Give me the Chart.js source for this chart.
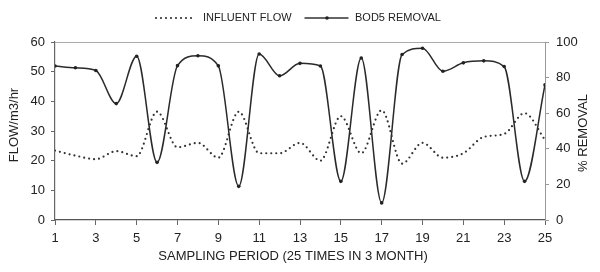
<!DOCTYPE html>
<html lang="en">
<head>
    <meta charset="UTF-8">
    <title>Influent flow and BOD5 removal</title>
    <script src="https://cdn.jsdelivr.net/npm/chart.js"></script>
    <style>
        body { margin: 0; background: #fff; }
    </style>
</head>
<body>
    <canvas id="grafico" width="600" height="272"></canvas>

<script>
    // valores
    const periodos = [1, 2, 3, 4, 5, 6, 7, 8, 9, 10, 11, 12, 13, 14, 15, 16, 17, 18, 19, 20, 21, 22, 23, 24, 25];
    const vazao = [23.4, 21.7, 20.5, 23.2, 21.5, 36.5, 24.5, 26, 21, 36.5, 22.5, 22.5, 26, 20, 35, 22.5, 37, 19, 26, 21, 22.5, 28, 29, 36, 27];
    const remocaoBOD = [86.5, 85.5, 84, 65.4, 92, 32.4, 86.7, 92.3, 86.6, 18.9, 93.3, 81, 88, 86.5, 21.7, 91, 9.6, 93, 96.5, 83.6, 88.3, 89.4, 86.2, 21.7, 75.9];
    const ticksX = [1, 3, 5, 7, 9, 11, 13, 15, 17, 19, 21, 23, 25];

    const fonte = 'Liberation Sans, Arial, sans-serif';
    const corTexto = '#222';

    // legenda e titulos dos eixos desenhados a mao
    const extras = {
        id: 'extras',
        afterDraw(chart) {
            const ctx = chart.ctx;
            const a = chart.chartArea;
            ctx.save();

            // borda de cima
            ctx.strokeStyle = '#aaa';
            ctx.lineWidth = 1;
            ctx.beginPath();
            ctx.moveTo(a.left, a.top + 0.5);
            ctx.lineTo(a.right, a.top + 0.5);
            ctx.stroke();

            ctx.fillStyle = corTexto;
            ctx.font = '13px ' + fonte;
            ctx.textAlign = 'center';
            ctx.textBaseline = 'middle';
            ctx.fillText('SAMPLING PERIOD (25 TIMES IN 3 MONTH)', 293, 256);

            ctx.save();
            ctx.translate(14, 125);
            ctx.rotate(-Math.PI / 2);
            ctx.fillText('FLOW/m3/hr', 0, 0);
            ctx.restore();

            ctx.save();
            ctx.translate(583, 133);
            ctx.rotate(-Math.PI / 2);
            ctx.fillText('% REMOVAL', 0, 0);
            ctx.restore();

            // legenda
            const yl = 18;
            ctx.strokeStyle = '#333';
            ctx.lineWidth = 2.2;
            ctx.lineCap = 'round';
            ctx.setLineDash([0, 5]);
            ctx.beginPath();
            ctx.moveTo(156, yl);
            ctx.lineTo(194, yl);
            ctx.stroke();

            ctx.setLineDash([]);
            ctx.lineWidth = 1.3;
            ctx.beginPath();
            ctx.moveTo(305, yl);
            ctx.lineTo(348, yl);
            ctx.stroke();
            ctx.fillStyle = '#222';
            ctx.beginPath();
            ctx.arc(327, yl, 1.8, 0, Math.PI * 2);
            ctx.fill();

            ctx.fillStyle = corTexto;
            ctx.font = '11px ' + fonte;
            ctx.textAlign = 'left';
            ctx.fillText('INFLUENT FLOW', 203, yl);
            ctx.fillText('BOD5 REMOVAL', 355, yl);

            ctx.restore();
        }
    };

    const ctx = document.getElementById('grafico');

    new Chart(ctx, {
        type: 'line',
        data: {
            datasets: [{
                label: 'INFLUENT FLOW',
                data: periodos.map((p, i) => ({ x: p, y: vazao[i] })),
                yAxisID: 'y',
                borderColor: '#333',
                borderWidth: 2.2,
                borderDash: [0, 5],
                borderCapStyle: 'round',
                pointRadius: 0,
                cubicInterpolationMode: 'monotone',
                fill: false
            },
            {
                label: 'BOD5 REMOVAL',
                data: periodos.map((p, i) => ({ x: p, y: remocaoBOD[i] })),
                yAxisID: 'y2',
                borderColor: '#2a2a2a',
                borderWidth: 1.5,
                pointRadius: 1.8,
                pointBackgroundColor: '#222',
                pointBorderWidth: 0,
                cubicInterpolationMode: 'monotone',
                fill: false
            }]
        },
        options: {
            responsive: false,
            animation: false,
            devicePixelRatio: 1,
            layout: { padding: { top: 42, left: 0, right: 0, bottom: 0 } },
            plugins: {
                legend: { display: false },
                tooltip: { enabled: false }
            },
            scales: {
                x: {
                    type: 'linear',
                    min: 1,
                    max: 25,
                    afterBuildTicks: axis => { axis.ticks = ticksX.map(v => ({ value: v })); },
                    afterFit: axis => { axis.height = 52; },
                    grid: { drawOnChartArea: false, tickLength: 5, color: '#666' },
                    border: { color: '#555', width: 1.2 },
                    ticks: { color: corTexto, font: { family: fonte, size: 13 }, padding: 6, maxRotation: 0 }
                },
                y: {
                    position: 'left',
                    min: 0,
                    max: 60,
                    afterFit: axis => { axis.width = 55; },
                    grid: { drawOnChartArea: false, tickLength: 4, color: '#666' },
                    border: { color: '#666', width: 1.2 },
                    ticks: { stepSize: 10, color: corTexto, font: { family: fonte, size: 13 }, padding: 6 }
                },
                y2: {
                    position: 'right',
                    min: 0,
                    max: 100,
                    afterFit: axis => { axis.width = 55; },
                    grid: { drawOnChartArea: false, tickLength: 4, color: '#999' },
                    border: { color: '#999', width: 1 },
                    ticks: { stepSize: 10, color: corTexto, font: { family: fonte, size: 13 }, padding: 7 }
                }
            }
        },
        plugins: [extras]
    });
</script>
</body>
</html>
